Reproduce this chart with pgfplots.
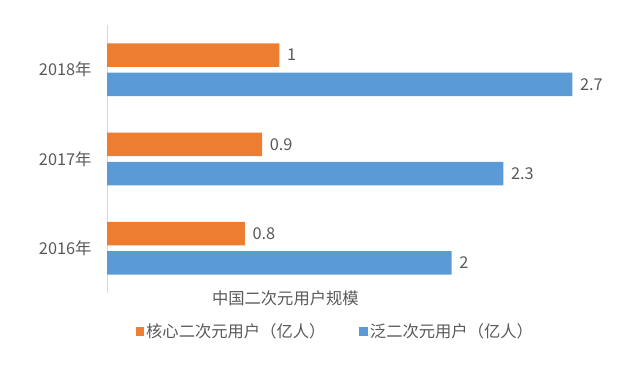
\documentclass[border=0pt]{standalone}
\usepackage{pgfplots}
\pgfplotsset{compat=1.18}
\usepackage{fontspec}
\setmainfont{Noto Sans CJK SC}
\definecolor{corange}{HTML}{ED7D31}
\definecolor{cblue}{HTML}{5B9BD5}
\definecolor{ctext}{HTML}{595959}
\definecolor{cline}{HTML}{D9D9D9}
\newcommand{\lf}{\fontsize{16.3}{19}\selectfont}
\begin{document}
\begin{tikzpicture}
\path[use as bounding box] (0,0) rectangle (628pt,390pt);
\begin{axis}[
  at={(107pt,97pt)}, anchor=south west,
  scale only axis, width=517pt, height=268pt,
  clip=false,
  xbar, bar width=23.5pt,
  xmin=0, xmax=3, ymin=-0.5, ymax=2.5,
  axis x line=none, axis y line=left,
  y axis line style={-, draw=cline, line width=0.8pt},
  ytick={0,1,2}, yticklabels={2016年,2017年,2018年},
  major tick length=0pt,
  yticklabel style={font=\lf, text=ctext, xshift=-12pt},
  nodes near coords, point meta=x,
  nodes near coords style={font=\lf, text=ctext, anchor=west, inner sep=0pt, xshift=7.5pt},
  /pgf/number format/assume math mode=true,
  legend style={at={(axis description cs:0.4416,-0.1444)}, anchor=center, draw=none, fill=none,
    legend columns=2, font=\lf, text=ctext,
    /tikz/every even column/.append style={column sep=32pt}},
  legend image code/.code={\fill[#1] (0pt,-4.2pt) rectangle (8.5pt,4.2pt);},
]
\addplot[fill=corange, draw=none, bar shift=14.6pt] coordinates {(0.8,0) (0.9,1) (1,2)};
\addlegendentry{核心二次元用户（亿人）}
\addplot[fill=cblue, draw=none, bar shift=-14.6pt] coordinates {(2,0) (2.3,1) (2.7,2)};
\addlegendentry{泛二次元用户（亿人）}
\node[font=\lf, text=ctext, anchor=center] at (axis description cs:0.345,-0.0205) {中国二次元用户规模};
\end{axis}
\end{tikzpicture}
\end{document}
